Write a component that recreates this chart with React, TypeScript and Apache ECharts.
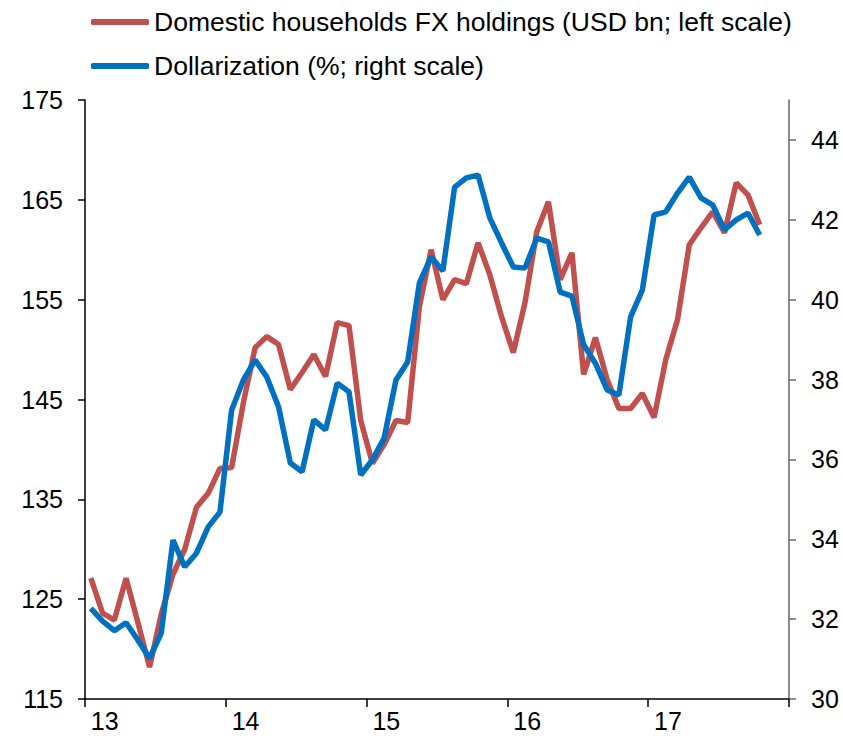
import React, { useEffect, useRef } from "react";
import * as echarts from "echarts";

const years = ["13", "14", "15", "16", "17"];
const months = ["01", "02", "03", "04", "05", "06", "07", "08", "09", "10", "11", "12"];
const categories: string[] = [];
years.forEach((y) => months.forEach((m) => categories.push(y + "-" + m)));

const fxHoldings = [
  127.1, 123.6, 122.9, 127.1, 122.7, 118.2, 123.5, 127.5, 130.0, 134.2,
  135.6, 138.1, 138.2, 144.7, 150.2, 151.3, 150.5, 146.0, 147.7, 149.5,
  147.3, 152.7, 152.4, 142.9, 138.6, 140.5, 142.9, 142.7, 154.3, 160.0,
  155.0, 157.0, 156.6, 160.7, 157.5, 153.3, 149.7, 154.7, 161.8, 164.8,
  157.0, 159.7, 147.5, 151.2, 147.0, 144.1, 144.1, 145.6, 143.2, 149.0,
  153.0, 160.5, 162.2, 163.8, 161.7, 166.7, 165.5, 162.5,
];

const dollarization = [
  32.27, 31.95, 31.71, 31.91, 31.48, 31.02, 31.65, 33.98, 33.31, 33.65,
  34.31, 34.68, 37.24, 37.99, 38.49, 38.06, 37.31, 35.91, 35.69, 36.99,
  36.74, 37.91, 37.69, 35.61, 35.99, 36.54, 37.99, 38.44, 40.42, 41.07,
  40.72, 42.82, 43.05, 43.12, 42.05, 41.42, 40.82, 40.79, 41.54, 41.45,
  40.19, 40.09, 38.87, 38.41, 37.74, 37.61, 39.57, 40.24, 42.12, 42.2,
  42.67, 43.07, 42.55, 42.37, 41.75, 42.0, 42.17, 41.62,
];

const rightTicks = [30, 32, 34, 36, 38, 40, 42, 44];

const FONT = "Liberation Sans, Arial, Helvetica, sans-serif";

export default function App() {
  const ref = useRef<HTMLDivElement>(null);
  useEffect(() => {
    if (!ref.current) return;
    const chart = echarts.init(ref.current, null, { renderer: "svg" });
    chart.setOption({
      animation: false,
      backgroundColor: "#ffffff",
      textStyle: { fontFamily: FONT },
      legend: {
        orient: "vertical",
        left: 86,
        top: 3,
        itemWidth: 58,
        itemHeight: 6,
        itemGap: 16,
        icon: "roundRect",
        textStyle: { fontFamily: FONT, fontSize: 26.5, color: "#000", lineHeight: 28 },
        data: [
          "Domestic households FX holdings (USD bn; left scale)",
          "Dollarization (%; right scale)",
        ],
      },
      grid: { left: 85, right: 54, top: 100, bottom: 44, containLabel: false },
      xAxis: {
        type: "category",
        data: categories,
        boundaryGap: true,
        axisLine: { lineStyle: { color: "#000", width: 1.5 } },
        axisTick: {
          show: true,
          interval: (idx: number) => idx % 12 === 0,
          length: 8,
          lineStyle: { color: "#000", width: 1.5 },
        },
        axisLabel: {
          interval: 11,
          formatter: (v: string) => v.split("-")[0],
          fontFamily: FONT,
          fontSize: 25,
          color: "#000",
          margin: 9,
          align: "left",
        },
        splitLine: { show: false },
      },
      yAxis: [
        {
          type: "value",
          min: 115,
          max: 175,
          interval: 10,
          position: "left",
          axisLine: { show: true, lineStyle: { color: "#000", width: 1.5 } },
          axisTick: { show: true, length: 7, lineStyle: { color: "#000", width: 1.5 } },
          axisLabel: { fontFamily: FONT, fontSize: 25, color: "#000", margin: 22 },
          splitLine: { show: false },
        },
        {
          type: "value",
          min: 30,
          max: 45,
          interval: 2,
          position: "right",
          axisLine: { show: true, lineStyle: { color: "#666", width: 1.5 } },
          axisTick: { show: true, length: 7, customValues: rightTicks, lineStyle: { color: "#666", width: 1.5 } },
          axisLabel: { fontFamily: FONT, fontSize: 25, color: "#000", margin: 22, customValues: rightTicks },
          splitLine: { show: false },
        },
      ],
      series: [
        {
          name: "Domestic households FX holdings (USD bn; left scale)",
          type: "line",
          yAxisIndex: 0,
          data: fxHoldings,
          symbol: "none",
          lineStyle: { color: "#C0504D", width: 5.5 },
          itemStyle: { color: "#C0504D" },
          z: 2,
        },
        {
          name: "Dollarization (%; right scale)",
          type: "line",
          yAxisIndex: 1,
          data: dollarization,
          symbol: "none",
          lineStyle: { color: "#0070C0", width: 5.5 },
          itemStyle: { color: "#0070C0" },
          z: 3,
        },
      ],
    });
    return () => chart.dispose();
  }, []);
  return <div ref={ref} style={{ width: 843, height: 743, position: "absolute", left: 0, top: 0 }} />;
}
